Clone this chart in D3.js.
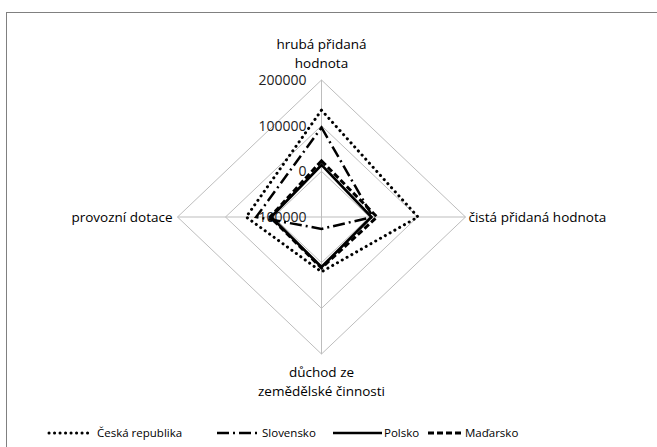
<!DOCTYPE html>
<html>
<head>
<meta charset="utf-8">
<script src="https://cdn.jsdelivr.net/npm/d3@7"></script>
<style>
  body { margin: 0; background: #fff; }
  text { font-family: "Open Sans", sans-serif; fill: #000; }
</style>
</head>
<body>
<div id="radar"></div>
<script>
// Axis names (clockwise from top), each split into lines
var axisNames = [
    ["hrubá přidaná", "hodnota"],
    ["čistá přidaná hodnota"],
    ["důchod ze", "zemědělské činnosti"],
    ["provozní dotace"]
];

var tickValues = [-100000, 0, 100000, 200000];
var tickLabels = ["-100000", "0", "100000", "200000"];

var seriesNames = ["Česká republika", "Slovensko", "Polsko", "Maďarsko"];

// values per axis: top, right, bottom, left
var ceskaValues = [134000, 101000, 20000, 57000];
var slovenskoValues = [96000, 7000, -74000, 36000];
var polskoValues = [14000, 4000, 9500, 5000];
var madarskoValues = [23000, 15600, 11700, 7000];

var seriesValues = [ceskaValues, slovenskoValues, polskoValues, madarskoValues];

function drawRadar() {
    var svgWidth = 657;
    var svgHeight = 447;

    var svg = d3.select("#radar")
        .append("svg")
        .attr("width", svgWidth)
        .attr("height", svgHeight);

    // chart frame
    svg.append("rect")
        .attr("x", 6.5)
        .attr("y", 12.5)
        .attr("width", 700)
        .attr("height", 500)
        .attr("fill", "none")
        .attr("stroke", "#808080")
        .attr("stroke-width", 1);

    var cx = 321.5, cy = 217;

    // plot area is slightly wider than tall
    var rScaleX = d3.scaleLinear().domain([-100000, 200000]).range([0, 144]);
    var rScaleY = d3.scaleLinear().domain([-100000, 200000]).range([0, 137]);

    var angles = [-Math.PI / 2, 0, Math.PI / 2, Math.PI];

    function point(value, i) {
        return [
            cx + Math.cos(angles[i]) * rScaleX(value),
            cy + Math.sin(angles[i]) * rScaleY(value)
        ];
    }

    var g = svg.append("g");

    // grid rings
    var lineClosed = d3.line().curve(d3.curveLinearClosed);
    tickValues.slice(1).forEach(function(t) {
        g.append("path")
            .attr("d", lineClosed(angles.map(function(a, i) { return point(t, i); })))
            .attr("fill", "none")
            .attr("stroke", "#bdbdbd")
            .attr("stroke-width", 1);
    });

    // spokes
    angles.forEach(function(a, i) {
        var p = point(200000, i);
        g.append("line")
            .attr("x1", cx).attr("y1", cy)
            .attr("x2", p[0]).attr("y2", p[1])
            .attr("stroke", "#bdbdbd")
            .attr("stroke-width", 1);
    });

    // tick labels along the top spoke
    tickValues.forEach(function(t, i) {
        g.append("text")
            .attr("x", cx - 15)
            .attr("y", cy - rScaleY(t))
            .attr("dy", "0.35em")
            .attr("text-anchor", "end")
            .style("font-size", "14px")
            .style("fill", "#222")
            .text(tickLabels[i]);
    });

    // series
    var styles = [
        { width: 3, dash: "0.1,5.4", cap: "round" },
        { width: 2.5, dash: "12,4,2,4", cap: "butt" },
        { width: 2.7, dash: null, cap: "butt" },
        { width: 3, dash: "6,3", cap: "butt" }
    ];

    seriesValues.forEach(function(vals, s) {
        g.append("path")
            .attr("d", lineClosed(vals.map(function(v, i) { return point(v, i); })))
            .attr("fill", "none")
            .attr("stroke", "#000")
            .attr("stroke-width", styles[s].width)
            .attr("stroke-dasharray", styles[s].dash)
            .attr("stroke-linecap", styles[s].cap)
            .attr("stroke-linejoin", "miter");
    });

    // axis names
    var nameFont = "13.5px";
    // top
    var top = g.append("text").attr("text-anchor", "middle").style("font-size", nameFont);
    axisNames[0].forEach(function(line, k) {
        top.append("tspan").attr("x", cx).attr("y", 49 + k * 19).text(line);
    });
    // right
    g.append("text")
        .attr("x", point(200000, 1)[0] + 3)
        .attr("y", cy).attr("dy", "0.35em")
        .style("font-size", nameFont)
        .text(axisNames[1][0]);
    // bottom
    var bottom = g.append("text").attr("text-anchor", "middle").style("font-size", nameFont);
    axisNames[2].forEach(function(line, k) {
        bottom.append("tspan").attr("x", cx).attr("y", 377 + k * 19).text(line);
    });
    // left
    g.append("text")
        .attr("x", point(200000, 3)[0] - 5)
        .attr("y", cy).attr("dy", "0.35em")
        .attr("text-anchor", "end")
        .style("font-size", nameFont)
        .text(axisNames[3][0]);

    // legend
    var legendItems = [
        { x1: 49, x2: 89, tx: 97 },
        { x1: 217, x2: 260, tx: 262 },
        { x1: 333, x2: 382, tx: 384 },
        { x1: 428, x2: 463, tx: 465 }
    ];
    var legendY = 433;
    var legend = svg.append("g");
    seriesNames.forEach(function(name, s) {
        var it = legendItems[s];
        legend.append("line")
            .attr("x1", it.x1).attr("x2", it.x2)
            .attr("y1", legendY).attr("y2", legendY)
            .attr("stroke", "#000")
            .attr("stroke-width", styles[s].width)
            .attr("stroke-dasharray", styles[s].dash)
            .attr("stroke-linecap", styles[s].cap);
        legend.append("text")
            .attr("x", it.tx)
            .attr("y", legendY).attr("dy", "0.35em")
            .style("font-size", "11.5px")
            .text(name);
    });
}

drawRadar();
</script>
</body>
</html>
